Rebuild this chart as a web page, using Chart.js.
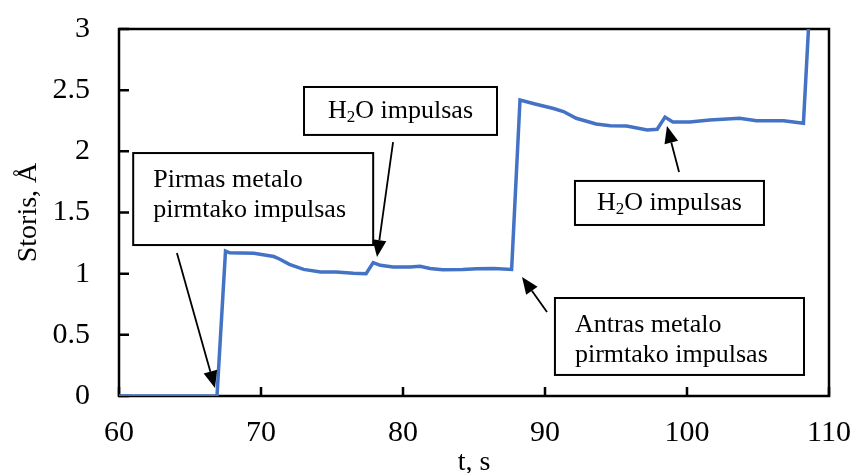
<!DOCTYPE html>
<html>
<head>
<meta charset="utf-8">
<script src="https://cdn.jsdelivr.net/npm/chart.js@4"></script>
<style>
  html, body { margin: 0; padding: 0; background: #fff; }
  canvas { display: block; }
</style>
</head>
<body>
<canvas id="storisChart" width="855" height="473"></canvas>
<script>
// ================= DATA =================
const times = [60, 66.9, 67.5, 67.8, 69.5, 70.9, 71.3, 72.0, 73.0, 74.2, 75.3, 76.5, 77.4, 77.9, 78.4,
  79.3, 80.5, 81.2, 81.9, 82.8, 84.2, 85.2, 86.4, 87.65, 88.24, 89.3, 90.6, 91.3, 92.2, 93.6,
  94.6, 95.75, 97.2, 97.9, 98.45, 99.0, 100.2, 101.6, 103.7, 104.9, 106.8, 108.2, 108.6];
const thickness = [0, 0, 1.185, 1.17, 1.166, 1.14, 1.12, 1.076, 1.035, 1.014, 1.014, 1.003, 1.0, 1.09, 1.068,
  1.055, 1.055, 1.06, 1.043, 1.033, 1.035, 1.04, 1.043, 1.035, 2.42, 2.387, 2.35, 2.325, 2.27, 2.224,
  2.21, 2.207, 2.175, 2.18, 2.28, 2.24, 2.24, 2.256, 2.27, 2.25, 2.25, 2.23, 3.1];

const xTicks = [60, 70, 80, 90, 100, 110];
const yTicks = [0, 0.5, 1, 1.5, 2, 2.5, 3];

// callout texts, boxes [t1, v1, t2, v2] and arrows [fromT, fromV, tipT, tipV] in data units
const noteTexts = [
  ["Pirmas metalo", "pirmtako impulsas"],
  ["H\u2082O impulsas"],
  ["H\u2082O impulsas"],
  ["Antras metalo", "pirmtako impulsas"]
];
const noteBoxes = [
  [61.0, 1.986, 77.9, 1.234],
  [73.03, 2.526, 86.62, 2.134],
  [92.11, 1.758, 105.42, 1.398],
  [90.7, 0.801, 108.24, 0.172]
];
const noteArrows = [
  [64.08, 1.169, 66.76, 0.065],
  [79.3, 2.076, 78.17, 1.136],
  [99.44, 1.831, 98.59, 2.207],
  [90.14, 0.687, 88.38, 0.973]
];

const serif = "'Times New Roman', 'Liberation Serif', serif";
Chart.defaults.color = "#000";

// ================= FRAME + INWARD TICKS =================
const framePlugin = {
  id: "frame",
  beforeDatasetsDraw(chart) {
    const { ctx, chartArea: a, scales } = chart;
    ctx.save();
    ctx.strokeStyle = "#000";
    ctx.lineWidth = 2.5;
    ctx.strokeRect(a.left, a.top, a.right - a.left, a.bottom - a.top);
    ctx.beginPath();
    yTicks.forEach(v => {
      const y = scales.y.getPixelForValue(v);
      ctx.moveTo(a.left, y);
      ctx.lineTo(a.left + 10, y);
    });
    xTicks.forEach(v => {
      const x = scales.x.getPixelForValue(v);
      ctx.moveTo(x, a.bottom);
      ctx.lineTo(x, a.bottom - 9);
    });
    ctx.stroke();
    ctx.restore();
  }
};

// draws "H₂O ..." with a real lowered subscript
function drawRich(ctx, text, x, y, align) {
  const parts = text.split("\u2082");
  const big = "26px " + serif, small = "17px " + serif;
  ctx.font = big;
  let w = ctx.measureText(parts[0]).width;
  let subW = 0, restW = 0;
  if (parts.length > 1) {
    ctx.font = small; subW = ctx.measureText("2").width;
    ctx.font = big; restW = ctx.measureText(parts[1]).width;
  }
  let sx = align === "center" ? x - (w + subW + restW) / 2 : x;
  ctx.textAlign = "left";
  ctx.textBaseline = "middle";
  ctx.font = big;
  ctx.fillText(parts[0], sx, y);
  if (parts.length > 1) {
    ctx.font = small;
    ctx.fillText("2", sx + w, y + 7);
    ctx.font = big;
    ctx.fillText(parts[1], sx + w + subW, y);
  }
}

// ================= CALLOUTS =================
const notesPlugin = {
  id: "notes",
  afterDatasetsDraw(chart) {
    const { ctx, scales } = chart;
    const px = t => scales.x.getPixelForValue(t);
    const py = v => scales.y.getPixelForValue(v);
    ctx.save();
    ctx.fillStyle = "#000";
    ctx.strokeStyle = "#000";

    noteArrows.forEach(a => {
      const x1 = px(a[0]), y1 = py(a[1]), x2 = px(a[2]), y2 = py(a[3]);
      const ang = Math.atan2(y2 - y1, x2 - x1);
      const hl = 17, hw = 7;
      const bx = x2 - hl * Math.cos(ang), by = y2 - hl * Math.sin(ang);
      ctx.lineWidth = 1.8;
      ctx.beginPath();
      ctx.moveTo(x1, y1);
      ctx.lineTo(bx, by);
      ctx.stroke();
      ctx.beginPath();
      ctx.moveTo(x2, y2);
      ctx.lineTo(bx + hw * Math.sin(ang), by - hw * Math.cos(ang));
      ctx.lineTo(bx - hw * Math.sin(ang), by + hw * Math.cos(ang));
      ctx.closePath();
      ctx.fill();
    });

    noteBoxes.forEach((b, i) => {
      const l = px(b[0]), t = py(b[1]), r = px(b[2]), btm = py(b[3]);
      ctx.fillStyle = "#fff";
      ctx.fillRect(l, t, r - l, btm - t);
      ctx.lineWidth = 2;
      ctx.strokeRect(l, t, r - l, btm - t);
      ctx.fillStyle = "#000";
      const lines = noteTexts[i];
      const cy = (t + btm) / 2;
      if (lines.length === 1) {
        drawRich(ctx, lines[0], (l + r) / 2, cy, "center");
      } else {
        const off = i === 0 ? -4 : 4;
        lines.forEach((s, k) => {
          drawRich(ctx, s, l + 20, cy + off + (k - (lines.length - 1) / 2) * 30, "left");
        });
      }
    });
    ctx.restore();
  }
};

const noPad = s => { s.paddingTop = 0; s.paddingBottom = 0; s.paddingLeft = 0; s.paddingRight = 0; };

// ================= CHART =================
new Chart(document.getElementById("storisChart"), {
  type: "line",
  data: {
    datasets: [{
      data: times.map((t, i) => ({ x: t, y: thickness[i] })),
      borderColor: "#4472C4",
      borderWidth: 3.5,
      pointRadius: 0,
      tension: 0,
      fill: false
    }]
  },
  options: {
    responsive: false,
    animation: false,
    layout: { padding: { top: 29, right: 26, left: 0, bottom: 0 } },
    plugins: { legend: { display: false }, tooltip: { enabled: false } },
    scales: {
      x: {
        type: "linear",
        min: 60,
        max: 110,
        afterFit: s => { s.height = 77; noPad(s); },
        afterBuildTicks: s => { s.ticks = xTicks.map(v => ({ value: v })); },
        grid: { display: false, drawTicks: false },
        border: { display: false },
        ticks: { padding: 19, maxRotation: 0, callback: v => String(v), font: { family: serif, size: 30 } },
        title: { display: true, text: "t, s", padding: 0, font: { family: serif, size: 28, lineHeight: 0.75 } }
      },
      y: {
        min: 0,
        max: 3,
        afterFit: s => { s.width = 119; noPad(s); },
        afterBuildTicks: s => { s.ticks = yTicks.map(v => ({ value: v })); },
        grid: { display: false, drawTicks: false },
        border: { display: false },
        ticks: { padding: 29, callback: v => String(v), font: { family: serif, size: 30 } },
        title: { display: true, text: "Storis, \u00C5", padding: { top: 18, bottom: 0 }, font: { family: serif, size: 28, lineHeight: 0.75 } }
      }
    }
  },
  plugins: [framePlugin, notesPlugin]
});
</script>
</body>
</html>
